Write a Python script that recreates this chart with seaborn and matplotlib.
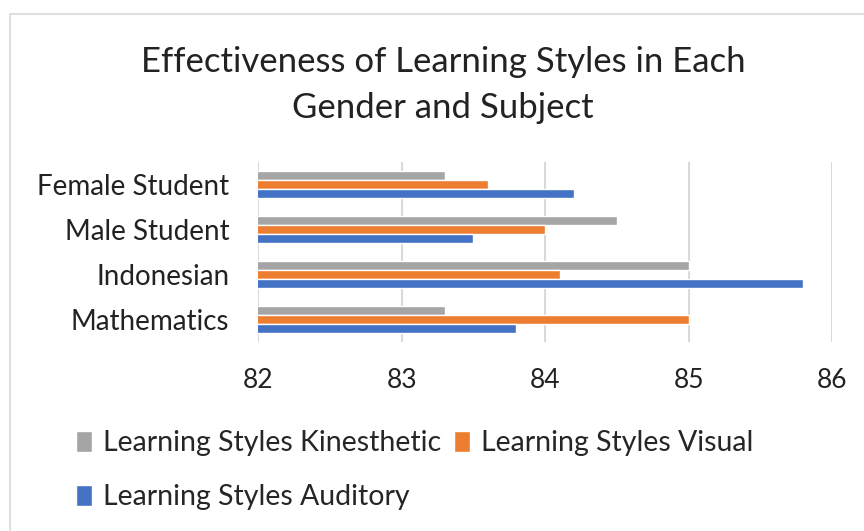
import pandas as pd
import seaborn as sns
import matplotlib.pyplot as plt
from matplotlib.patches import Rectangle

# values
groups = ['Female Student', 'Male Student', 'Indonesian', 'Mathematics']
kinesthetic = [83.3, 84.5, 85.0, 83.3]
visual = [83.6, 84.0, 84.1, 85.0]
auditory = [84.2, 83.5, 85.8, 83.8]
styles = ['Learning Styles Kinesthetic', 'Learning Styles Visual', 'Learning Styles Auditory']
colors = ['#A5A5A5', '#ED7D31', '#4472C4']
x_ticks = [82, 83, 84, 85, 86]

df = pd.DataFrame({'Group': groups,
                   styles[0]: kinesthetic,
                   styles[1]: visual,
                   styles[2]: auditory})
long = df.melt(id_vars='Group', var_name='Style', value_name='Score')

sns.set_style('white')
plt.rcParams['font.family'] = ['Lato', 'DejaVu Sans']

fig = plt.figure(figsize=(8.64, 5.31), dpi=100)
ax = fig.add_axes([0.299, 0.356, 0.664, 0.339])

sns.barplot(data=long, x='Score', y='Group', hue='Style', hue_order=styles,
            palette=colors, saturation=1, orient='h', width=0.62, ax=ax, legend=True)

ax.set_xlim(82, 86)
ax.set_xticks(x_ticks)
ax.set_xlabel('')
ax.set_ylabel('')
ax.grid(axis='x', color='#D9D9D9', linewidth=1.5)
ax.set_axisbelow(True)
for s in ax.spines.values():
    s.set_visible(False)
ax.tick_params(axis='x', length=0, pad=19, labelsize=19, colors='#222222')
ax.tick_params(axis='y', length=0, pad=21, labelsize=20, colors='#222222')

handles, labels = ax.get_legend_handles_labels()
ax.get_legend().remove()
order = [0, 2, 1]
fig.legend([handles[i] for i in order], [labels[i] for i in order],
           ncol=2, loc='upper left', bbox_to_anchor=(0.088, 0.19),
           frameon=False, fontsize=20.5, handlelength=0.55, handleheight=0.75,
           handletextpad=0.4, columnspacing=0.45, labelspacing=0.98,
           borderaxespad=0, borderpad=0)

fig.text(0.513, 0.84, 'Effectiveness of Learning Styles in Each\nGender and Subject',
         ha='center', va='center', fontsize=25, color='#222222',
         linespacing=1.55)

fig.patches.append(Rectangle((0.011, -0.1), 1.1, 0.1 + 0.973,
                             transform=fig.transFigure, fill=False,
                             edgecolor='#D9D9D9', linewidth=1.2))

fig.savefig('out.png', dpi=100)
